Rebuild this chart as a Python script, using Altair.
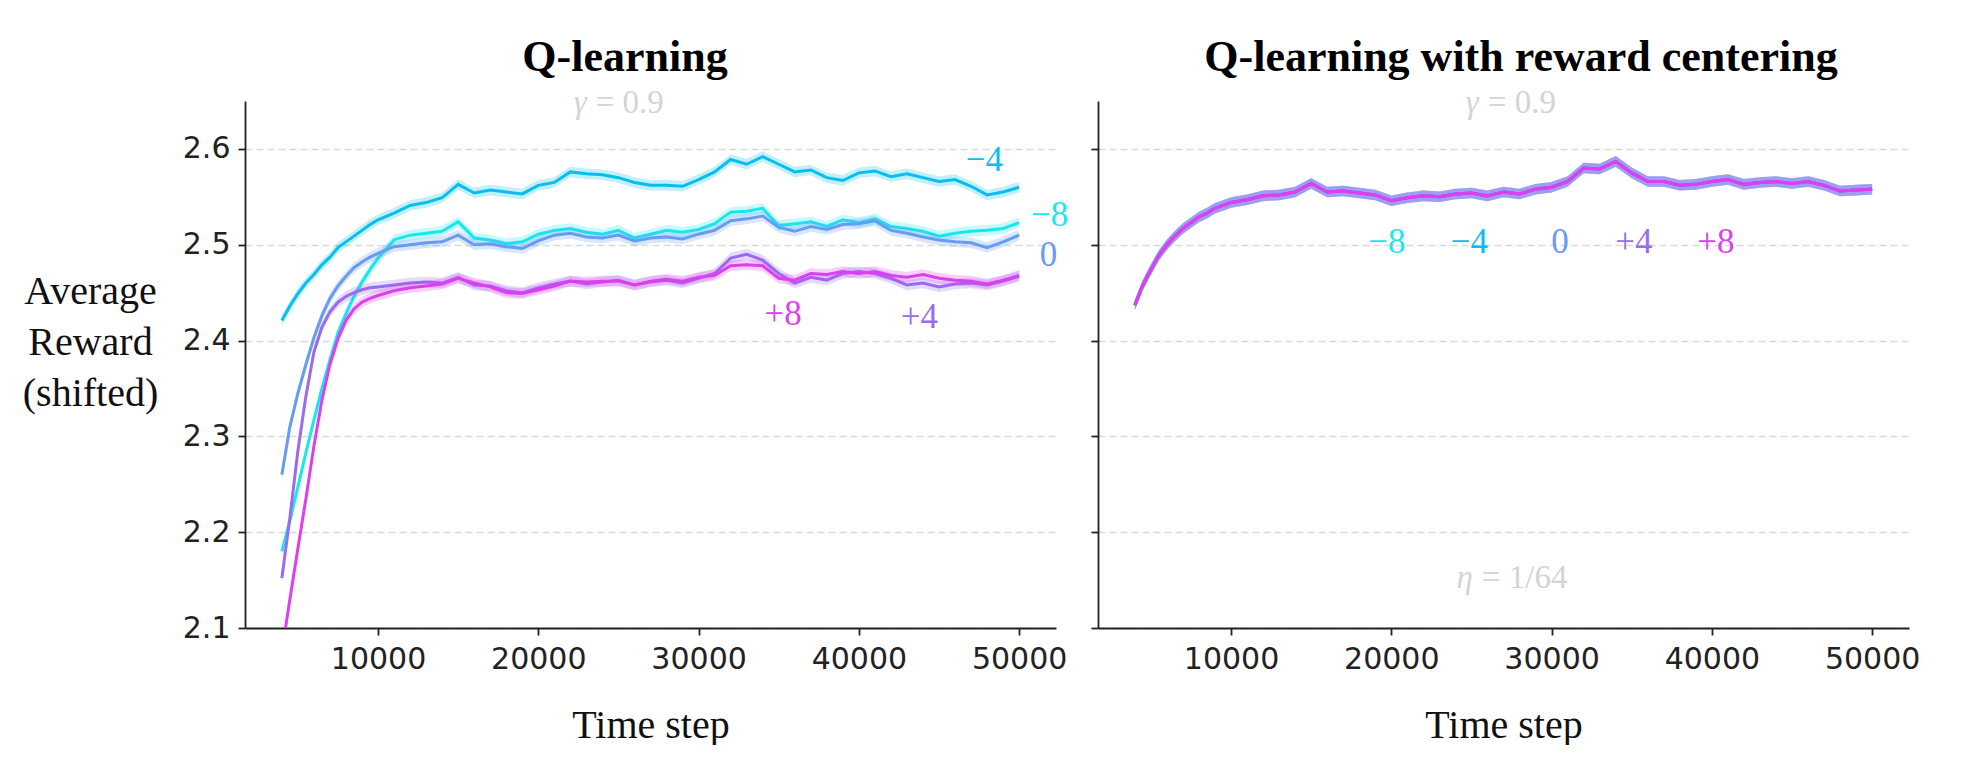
import altair as alt
import pandas as pd

# ---------------- data ----------------
STEPS = [4000, 4500, 5000, 5500, 6000, 6500, 7000, 7500, 8000, 8500, 9000, 9500, 10000,
         11000, 12000, 13000, 14000, 15000, 16000, 17000, 18000, 19000, 20000,
         21000, 22000, 23000, 24000, 25000, 26000, 27000, 28000, 29000, 30000,
         31000, 32000, 33000, 34000, 35000, 36000, 37000, 38000, 39000, 40000,
         41000, 42000, 43000, 44000, 45000, 46000, 47000, 48000, 49000, 50000]

SERIES = ["−8", "−4", "0", "+4", "+8"]
COLORS = ["#18E8EE", "#08BEEE", "#679CF2", "#9A6BEE", "#DD3FEE"]

# Q-learning (left panel)
q_minus8 = [2.180, 2.212, 2.247, 2.283, 2.317, 2.350, 2.380, 2.408, 2.428, 2.446, 2.461, 2.474, 2.486,
            2.505, 2.510, 2.512, 2.514, 2.524, 2.507, 2.505, 2.501, 2.503, 2.511,
            2.515, 2.517, 2.513, 2.511, 2.515, 2.507, 2.511, 2.515, 2.513, 2.516,
            2.522, 2.534, 2.535, 2.538, 2.520, 2.522, 2.524, 2.519, 2.526, 2.523,
            2.527, 2.519, 2.517, 2.514, 2.509, 2.512, 2.514, 2.515, 2.517, 2.523]
q_minus4 = [2.421, 2.436, 2.449, 2.460, 2.469, 2.479, 2.487, 2.497, 2.503, 2.509, 2.515, 2.521, 2.526,
            2.533, 2.541, 2.544, 2.549, 2.563, 2.554, 2.557, 2.555, 2.553, 2.562,
            2.565, 2.576, 2.574, 2.573, 2.570, 2.565, 2.562, 2.562, 2.561, 2.568,
            2.576, 2.589, 2.584, 2.592, 2.584, 2.576, 2.578, 2.570, 2.567, 2.575,
            2.577, 2.571, 2.574, 2.570, 2.566, 2.568, 2.561, 2.552, 2.555, 2.560]
q_zero = [2.260, 2.310, 2.345, 2.375, 2.403, 2.426, 2.444, 2.457, 2.467, 2.476, 2.482, 2.487, 2.491,
          2.498, 2.500, 2.502, 2.503, 2.510, 2.500, 2.501, 2.498, 2.496, 2.504,
          2.510, 2.512, 2.508, 2.507, 2.510, 2.504, 2.507, 2.508, 2.506, 2.511,
          2.515, 2.525, 2.527, 2.530, 2.518, 2.514, 2.519, 2.516, 2.521, 2.522,
          2.525, 2.515, 2.512, 2.508, 2.505, 2.503, 2.502, 2.497, 2.503, 2.510]
q_plus4 = [2.152, 2.215, 2.285, 2.342, 2.388, 2.414, 2.430, 2.440, 2.446, 2.450, 2.453, 2.455, 2.456,
           2.458, 2.460, 2.461, 2.460, 2.466, 2.458, 2.457, 2.452, 2.450, 2.455,
           2.459, 2.462, 2.459, 2.461, 2.463, 2.458, 2.461, 2.463, 2.460, 2.465,
           2.470, 2.486, 2.490, 2.484, 2.470, 2.460, 2.466, 2.463, 2.470, 2.472,
           2.470, 2.465, 2.458, 2.460, 2.456, 2.459, 2.460, 2.458, 2.462, 2.467]
q_plus8 = [2.075, 2.130, 2.183, 2.235, 2.290, 2.338, 2.375, 2.402, 2.421, 2.433, 2.440, 2.444, 2.447,
           2.452, 2.455, 2.457, 2.459, 2.465, 2.460, 2.456, 2.450, 2.449, 2.453,
           2.457, 2.462, 2.461, 2.462, 2.462, 2.458, 2.462, 2.464, 2.462, 2.466,
           2.468, 2.478, 2.479, 2.478, 2.465, 2.463, 2.470, 2.469, 2.472, 2.470,
           2.472, 2.468, 2.466, 2.469, 2.465, 2.463, 2.462, 2.459, 2.463, 2.468]

# Q-learning with reward centering (right panel): all offsets coincide
rc_values = [2.437, 2.458, 2.474, 2.489, 2.500, 2.509, 2.517, 2.523, 2.529, 2.533, 2.538, 2.541, 2.544,
             2.547, 2.551, 2.552, 2.555, 2.564, 2.555, 2.556, 2.554, 2.552, 2.546,
             2.549, 2.551, 2.550, 2.553, 2.554, 2.551, 2.555, 2.553, 2.558, 2.560,
             2.566, 2.580, 2.579, 2.587, 2.575, 2.566, 2.566, 2.562, 2.563, 2.566,
             2.568, 2.563, 2.565, 2.566, 2.564, 2.566, 2.562, 2.556, 2.557, 2.558]

BAND_HALF = [0.0055, 0.0055, 0.0055, 0.0055, 0.0055]  # standard-error half width

# label positions (time step, reward)
left_label_x = [51900, 47830, 51830, 43770, 35280]
left_label_y = [2.531, 2.5885, 2.4896, 2.425, 2.428]
right_label_x = [19720, 24870, 30520, 35140, 40250]
right_label_y = [2.5026, 2.5026, 2.5026, 2.5026, 2.5026]

LEFT_SERIES = [q_minus8, q_minus4, q_zero, q_plus4, q_plus8]
RIGHT_SERIES = [rc_values] * 5

X_DOMAIN = [1700, 52300]
Y_DOMAIN = [2.1, 2.65]
Y_TICKS = [2.1, 2.2, 2.3, 2.4, 2.5, 2.6]
X_TICKS = [10000, 20000, 30000, 40000, 50000]

W, H = 811, 527
SERIF = "Liberation Serif"
SANS = "DejaVu Sans"
AXIS_COLOR = "#222222"
ANNOT = "#d4d4d4"

XS = alt.Scale(domain=X_DOMAIN, nice=False, zero=False)
YS = alt.Scale(domain=Y_DOMAIN, nice=False, zero=False)


def x_axis():
    return alt.Axis(
        values=X_TICKS, format="d", grid=False,
        domainColor=AXIS_COLOR, domainWidth=1.8, tickColor=AXIS_COLOR, tickWidth=1.8, tickSize=7,
        labelFont=SANS, labelFontSize=30, labelColor=AXIS_COLOR, labelPadding=9,
        title="Time step", titleFont=SERIF, titleFontSize=40, titleFontWeight="normal",
        titleColor="#111111", titleY=109, titleBaseline="alphabetic",
    )


def y_axis(labels):
    kw = dict(
        values=Y_TICKS, format=".1f", grid=True, gridDash=[7, 4], gridColor="#d9d9d9", gridWidth=1.5,
        domainColor=AXIS_COLOR, domainWidth=1.8, tickColor=AXIS_COLOR, tickWidth=1.8, tickSize=7,
        labelFont=SANS, labelFontSize=30, labelColor=AXIS_COLOR, labelPadding=8,
    )
    if labels:
        kw.update(
            title=["Average", "Reward", "(shifted)"], titleAngle=0, titleFont=SERIF, titleFontSize=40,
            titleFontWeight="normal", titleColor="#111111", titleX=-155, titleY=202,
            titleAlign="center", titleBaseline="alphabetic", titleLineHeight=51,
        )
    else:
        kw.update(labels=False, title="")
    return alt.Axis(**kw)


def panel(series_values, label_x, label_y, labels_on_y, title_text, title_x, annotations):
    axes_df = pd.DataFrame({"step": STEPS, "value": series_values[0]})
    layers = [
        alt.Chart(axes_df).mark_point(opacity=0).encode(
            x=alt.X("step:Q", scale=XS, axis=x_axis()),
            y=alt.Y("value:Q", scale=YS, axis=y_axis(labels_on_y)),
        )
    ]
    for i, (name, color, vals) in enumerate(zip(SERIES, COLORS, series_values)):
        df = pd.DataFrame({
            "step": STEPS,
            "value": vals,
            "lo": [v - BAND_HALF[i] for v in vals],
            "hi": [v + BAND_HALF[i] for v in vals],
        })
        band = alt.Chart(df).mark_area(color=color, opacity=0.25, clip=True).encode(
            x=alt.X("step:Q", scale=XS), y=alt.Y("lo:Q", scale=YS), y2="hi:Q",
        )
        line = alt.Chart(df).mark_line(color=color, strokeWidth=3, clip=True).encode(
            x=alt.X("step:Q", scale=XS), y=alt.Y("value:Q", scale=YS),
        )
        layers += [band, line]
    lab = pd.DataFrame({"step": label_x, "value": label_y, "label": SERIES, "color": COLORS})
    layers.append(
        alt.Chart(lab).mark_text(font=SERIF, fontSize=35, align="center", baseline="middle").encode(
            x=alt.X("step:Q", scale=XS), y=alt.Y("value:Q", scale=YS), text="label:N",
            color=alt.Color("color:N", scale=None),
        )
    )
    for (sx, sy, sym, rest) in annotations:
        a = pd.DataFrame({"step": [sx], "value": [sy]})
        layers.append(
            alt.Chart(a).mark_text(font=SERIF, fontSize=33, fontStyle="italic", align="right",
                                   baseline="middle", dx=-3, color=ANNOT, text=sym).encode(
                x=alt.X("step:Q", scale=XS), y=alt.Y("value:Q", scale=YS))
        )
        layers.append(
            alt.Chart(a).mark_text(font=SERIF, fontSize=33, align="left",
                                   baseline="middle", dx=6, color=ANNOT, text=rest).encode(
                x=alt.X("step:Q", scale=XS), y=alt.Y("value:Q", scale=YS))
        )
    # panel title as a text mark placed above the plot area
    t = pd.DataFrame({"t": [title_text]})
    layers.append(
        alt.Chart(t).mark_text(font=SERIF, fontSize=44, fontWeight="bold", color="#000000",
                               align="center", baseline="alphabetic").encode(
            x=alt.value(title_x), y=alt.value(-30), text="t:N")
    )
    return alt.layer(*layers).properties(width=W, height=H)


left = panel(LEFT_SERIES, left_label_x, left_label_y, True, "Q-learning", 380,
             [(23210, 2.648, "γ", "= 0.9")])
right = panel(RIGHT_SERIES, right_label_x, right_label_y, False, "Q-learning with reward centering", 423,
              [(25650, 2.648, "γ", "= 0.9"), (25275, 2.152, "η", "= 1/64")])

chart = alt.hconcat(left, right, spacing=42, bounds="flush").properties(
    padding={"left": 14, "top": 28, "right": 5, "bottom": 0}
).configure_view(stroke=None)

chart.save("out.html", embed_options={"renderer": "svg", "actions": False})
